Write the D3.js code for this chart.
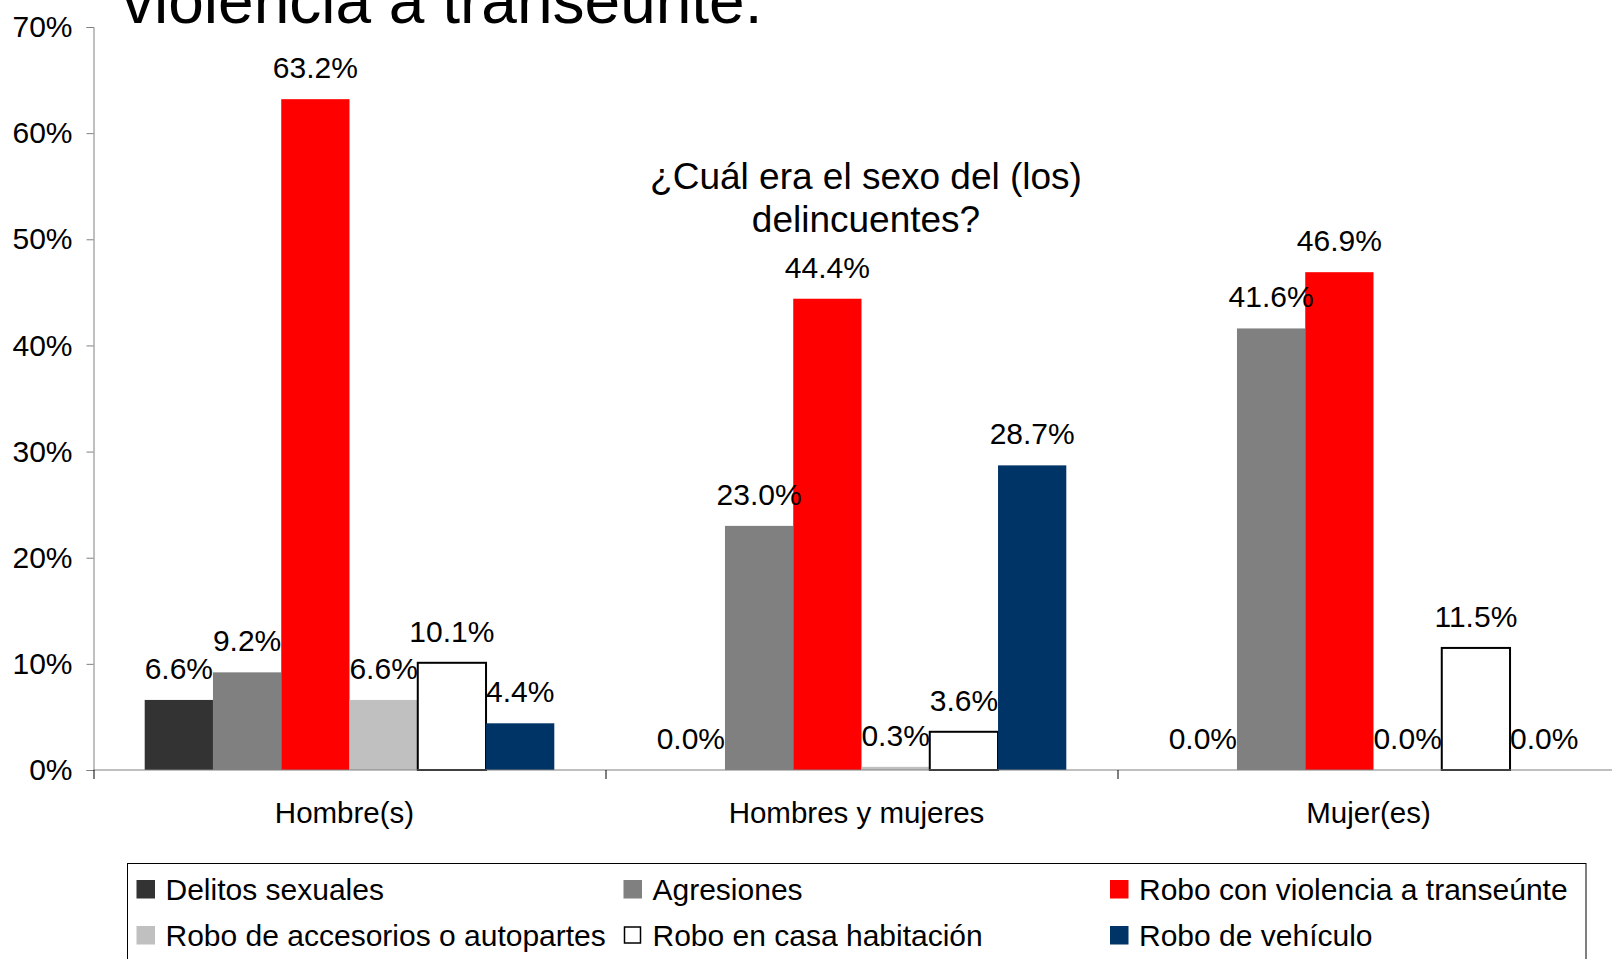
<!DOCTYPE html>
<html>
<head>
<meta charset="utf-8">
<script src="https://cdn.jsdelivr.net/npm/d3@7"></script>
<style>
    body { margin: 0; background: #fff; }
    #chart { width: 1612px; height: 959px; }
    text { font-family: 'Liberation Sans', Arial, sans-serif; fill: #000; }
</style>
</head>
<body>
<div id="chart"></div>
<script>
//Datos
const categorias = ['Hombre(s)', 'Hombres y mujeres', 'Mujer(es)'];
const tipos = ['Delitos sexuales', 'Agresiones', 'Robo con violencia a transeúnte', 'Robo de accesorios o autopartes', 'Robo en casa habitación', 'Robo de vehículo'];
const delitosSexuales = [6.6, 0.0, 0.0];
const agresiones = [9.2, 23.0, 41.6];
const roboTranseunte = [63.2, 44.4, 46.9];
const roboAutopartes = [6.6, 0.3, 0.0];
const roboCasa = [10.1, 3.6, 11.5];
const roboVehiculo = [4.4, 28.7, 0.0];
const yTicks = [0, 10, 20, 30, 40, 50, 60, 70];

//Colores fijos
const COLORES = ['#333333', '#808080', '#FF0000', '#C0C0C0', '#FFFFFF', '#003366'];

let series = [delitosSexuales, agresiones, roboTranseunte, roboAutopartes, roboCasa, roboVehiculo];
let data = categorias.map(function(c, i) {
    let d = { cat: c };
    tipos.forEach(function(t, j) { d[t] = series[j][i]; });
    return d;
});

let svg = d3.select('#chart')
    .append('svg')
    .attr('width', 1612)
    .attr('height', 959);

//Escalas
let x = d3.scaleBand()
    .domain(categorias)
    .range([93.5, 93.5 + 3 * 512]);

let xSub = d3.scaleBand()
    .domain(tipos)
    .range([0, x.bandwidth()])
    .paddingInner(0)
    .paddingOuter(0.75);

let y = d3.scaleLinear()
    .domain([0, 70])
    .range([770, 27]);

let color = d3.scaleOrdinal()
    .domain(tipos)
    .range(COLORES);

//Título (cortado arriba, como en el original)
svg.append('text')
    .attr('x', 122)
    .attr('y', 23)
    .style('font-size', '64px')
    .text('violencia a transeúnte.');

//Subtítulo
svg.append('text')
    .attr('x', 866)
    .attr('y', 189)
    .attr('text-anchor', 'middle')
    .style('font-size', '37px')
    .text('¿Cuál era el sexo del (los)');
svg.append('text')
    .attr('x', 866)
    .attr('y', 232)
    .attr('text-anchor', 'middle')
    .style('font-size', '37px')
    .text('delincuentes?');

//Eje Y
let yAxis = svg.append('g')
    .attr('transform', 'translate(93.5,0)')
    .call(d3.axisLeft(y).tickValues(yTicks).tickSize(7).tickPadding(14).tickFormat(function(d) { return d + '%'; }));
yAxis.select('.domain').attr('stroke', '#808080');
yAxis.selectAll('.tick line').attr('stroke', '#808080');
yAxis.selectAll('.tick text').style('font-size', '30px').style('font-family', "'Liberation Sans', Arial, sans-serif");

//Barras
let grupos = svg.append('g')
    .selectAll('g')
    .data(data)
    .enter()
    .append('g')
    .attr('transform', function(d) { return 'translate(' + x(d.cat) + ',0)'; });

grupos.selectAll('rect')
    .data(function(d) { return tipos.map(function(key) { return { key: key, value: d[key] }; }); })
    .enter()
    .append('rect')
    .attr('x', function(d) { return xSub(d.key); })
    .attr('width', xSub.bandwidth())
    .attr('y', function(d) { return y(d.value); })
    .attr('height', function(d) { return y(0) - y(d.value); })
    .attr('fill', function(d) { return color(d.key); })
    .attr('stroke', function(d) { return d.key == 'Robo en casa habitación' && d.value > 0 ? '#000' : 'none'; })
    .attr('stroke-width', 2);

grupos.selectAll('.label')
    .data(function(d) { return tipos.map(function(key) { return { key: key, value: d[key] }; }); })
    .enter()
    .append('text')
    .attr('class', 'label')
    .attr('x', function(d) { return xSub(d.key) + xSub.bandwidth() / 2; })
    .attr('y', function(d) { return y(d.value) - 21; })
    .attr('text-anchor', 'middle')
    .style('font-size', '30px')
    .text(function(d) { return d.value.toFixed(1) + '%'; });

//Eje X
let xAxis = svg.append('g')
    .attr('transform', 'translate(0,770)');
xAxis.append('line')
    .attr('x1', 93.5)
    .attr('x2', 1640)
    .attr('stroke', '#808080');
xAxis.selectAll('.sep')
    .data(categorias)
    .enter()
    .append('line')
    .attr('class', 'sep')
    .attr('x1', function(d) { return x(d) + 0.5; })
    .attr('x2', function(d) { return x(d) + 0.5; })
    .attr('y1', 0)
    .attr('y2', 9)
    .attr('stroke', '#000');
xAxis.selectAll('.cat')
    .data(categorias)
    .enter()
    .append('text')
    .attr('class', 'cat')
    .attr('x', function(d) { return x(d) + x.bandwidth() / 2 - 5; })
    .attr('y', 53)
    .attr('text-anchor', 'middle')
    .style('font-size', '29.5px')
    .text(function(d) { return d; });

//Leyenda
let legend = svg.append('g');
legend.append('rect')
    .attr('x', 127.5)
    .attr('y', 863.5)
    .attr('width', 1586 - 127.5)
    .attr('height', 200)
    .attr('fill', 'none')
    .attr('stroke', '#000');

let colX = [136.5, 623.5, 1110];
let rowY = [889, 935];
let items = legend.selectAll('.item')
    .data(tipos)
    .enter()
    .append('g')
    .attr('class', 'item')
    .attr('transform', function(d, i) { return 'translate(' + colX[i % 3] + ',' + rowY[Math.floor(i / 3)] + ')'; });
items.append('rect')
    .attr('x', function(d) { return d == 'Robo en casa habitación' ? 1 : 0; })
    .attr('y', function(d) { return d == 'Robo en casa habitación' ? -8 : -9; })
    .attr('width', function(d) { return d == 'Robo en casa habitación' ? 16 : 18.5; })
    .attr('height', function(d) { return d == 'Robo en casa habitación' ? 16 : 18.5; })
    .attr('fill', function(d) { return color(d); })
    .attr('stroke', function(d) { return d == 'Robo en casa habitación' ? '#000' : 'none'; })
    .attr('stroke-width', 1.5);
items.append('text')
    .attr('x', 29)
    .attr('y', 11)
    .style('font-size', '30px')
    .text(function(d) { return d; });
</script>
</body>
</html>
